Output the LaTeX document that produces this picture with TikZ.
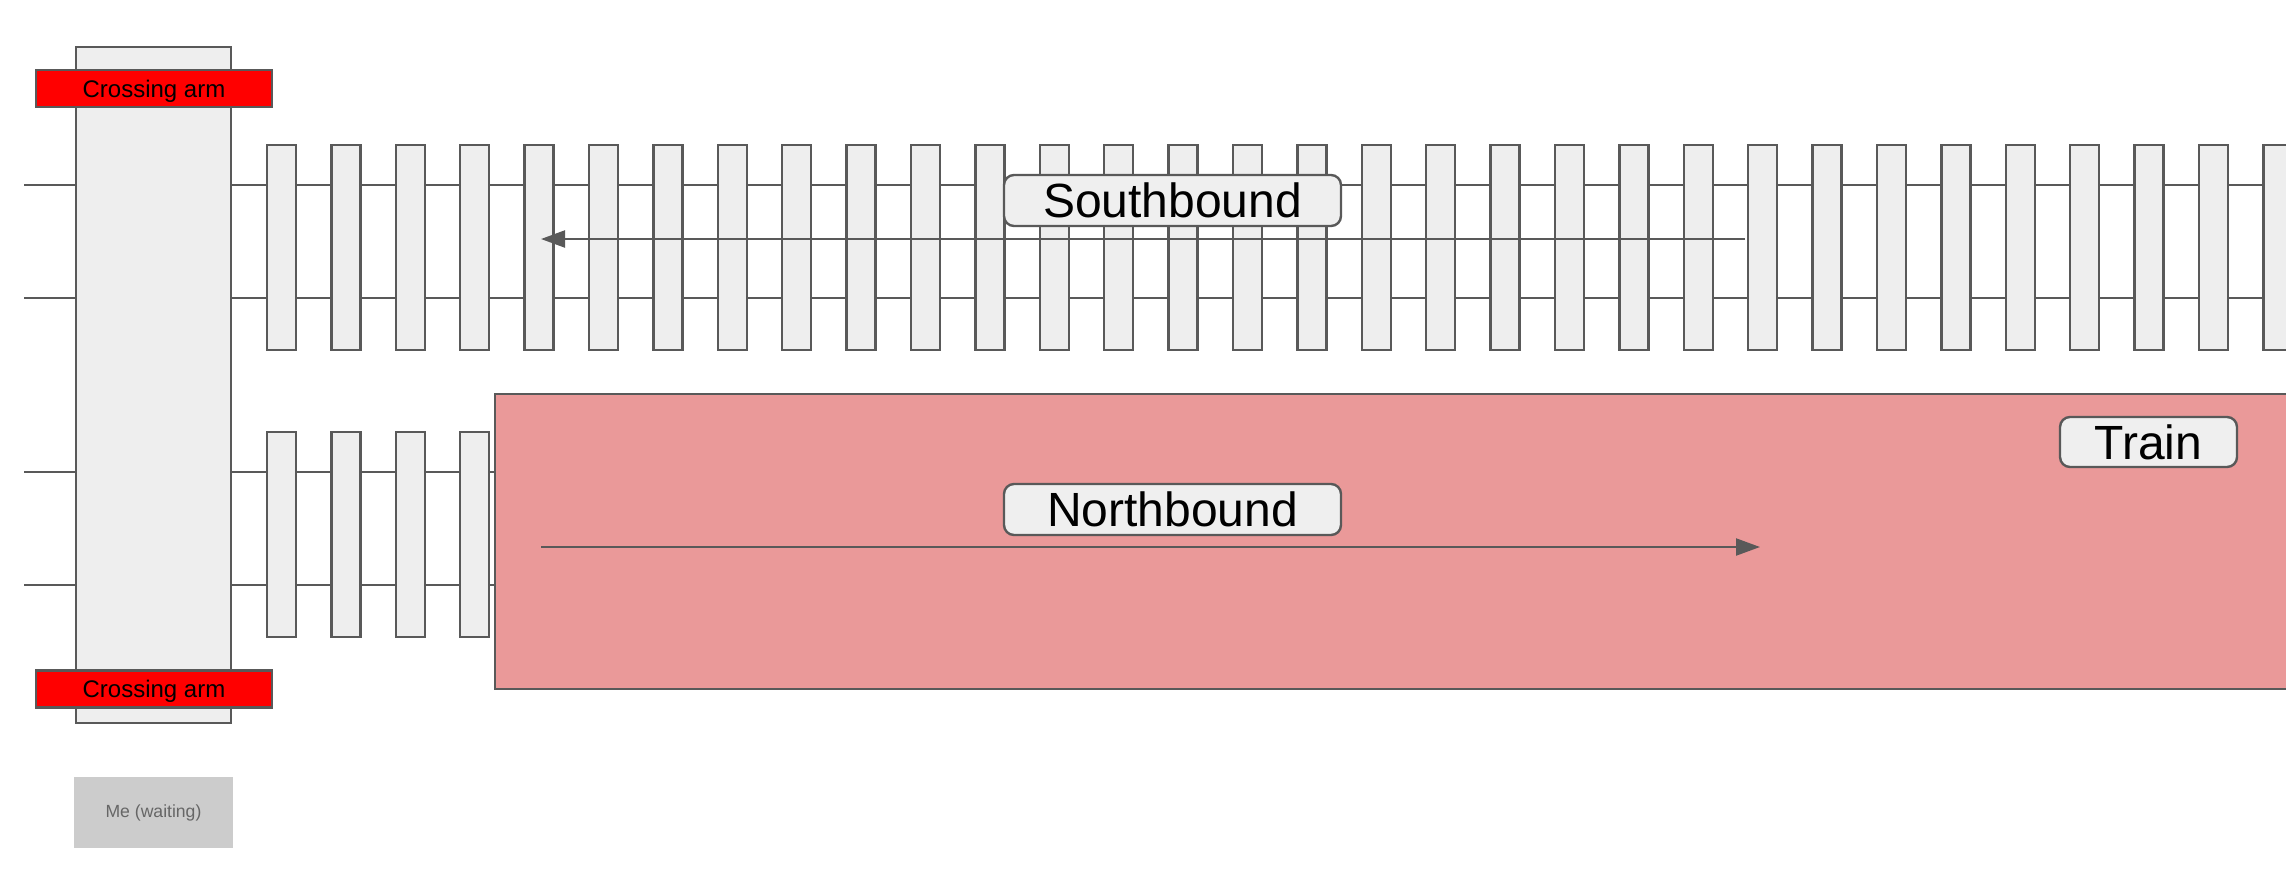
\documentclass[tikz,border=0pt]{standalone}
\usepackage{fontspec}
\setmainfont{Liberation Sans}
\usetikzlibrary{arrows.meta}
\definecolor{ln}{HTML}{595959}
\definecolor{tiefill}{HTML}{EEEEEE}
\definecolor{lblfill}{HTML}{EFEFEF}
\definecolor{armred}{HTML}{FF0000}
\definecolor{trainfill}{HTML}{EA9999}
\definecolor{mefill}{HTML}{CCCCCC}
\definecolor{metext}{HTML}{666666}
\tikzset{
  x=0.5pt, y=-0.5pt,
  rail/.style={draw=ln, line width=1.1pt},
  tiebox/.style={draw=ln, fill=tiefill, line width=1.2pt, inner sep=0pt,
    minimum width=14.5pt, minimum height=102.5pt},
  roadbox/.style={draw=ln, fill=tiefill, line width=1.2pt, inner sep=0pt,
    minimum width=77.5pt, minimum height=338pt},
  armbox/.style={draw=ln, fill=armred, line width=1.2pt, inner sep=0pt,
    minimum width=118pt, minimum height=18.5pt, font=\fontsize{12}{14}\selectfont, text=black,
    text height=8.6pt, text depth=0pt},
  mebox/.style={fill=mefill, inner sep=0pt, minimum width=79.5pt, minimum height=35.5pt,
    font=\fontsize{8.8}{10}\selectfont, text=metext},
  trainbox/.style={draw=ln, fill=trainfill, line width=1.2pt, inner sep=0pt,
    minimum width=902.5pt, minimum height=147.5pt},
  lblbox/.style={draw=ln, fill=lblfill, line width=1.2pt, rounded corners=5pt, inner sep=0pt,
    minimum width=168.5pt, minimum height=25.5pt, font=\fontsize{24}{28}\selectfont, text=black},
  dirarrow/.style={draw=ln, line width=1.1pt, -{Triangle[length=12pt,width=8.5pt]}},
}
\begin{document}
\begin{tikzpicture}
\useasboundingbox (0,0) rectangle (2286,874);
% rails
\coordinate (r1a) at (24,185);  \coordinate (r1b) at (2290,185);
\coordinate (r2a) at (24,298);  \coordinate (r2b) at (2290,298);
\coordinate (r3a) at (24,472);  \coordinate (r3b) at (2290,472);
\coordinate (r4a) at (24,585);  \coordinate (r4b) at (2290,585);
\draw[rail] (r1a) -- (r1b);
\draw[rail] (r2a) -- (r2b);
\draw[rail] (r3a) -- (r3b);
\draw[rail] (r4a) -- (r4b);
% ties, top track
\foreach \i in {0,...,31} {
  \node[tiebox] (ta\i) at ({281.5+\i*64.4},247.5) {};
}
% ties, bottom track
\foreach \i in {0,...,3} {
  \node[tiebox] (tb\i) at ({281.5+\i*64.4},534.5) {};
}
% road crossing
\node[roadbox] (road) at (153.5,385) {};
\node[armbox] (armtop) at (154,88.5) {Crossing arm};
\node[armbox] (armbot) at (154,689) {Crossing arm};
\node[mebox] (me) at (153.5,812.5) {Me (waiting)};
% train
\node[trainbox] (train) at (1397.5,541.5) {};
% direction arrows
\coordinate (sbs) at (1745,239);
\coordinate (sbe) at (541,239);
\draw[dirarrow] (sbs) -- (sbe);
\coordinate (nbs) at (541,547);
\coordinate (nbe) at (1760,547);
\draw[dirarrow] (nbs) -- (nbe);
% labels
\node[lblbox] (south) at (1172.5,200.5) {Southbound};
\node[lblbox] (north) at (1172.5,509.5) {Northbound};
\node[lblbox, minimum width=88.5pt, minimum height=25pt] (trainlbl) at (2148.5,442) {Train};
\end{tikzpicture}
\end{document}
